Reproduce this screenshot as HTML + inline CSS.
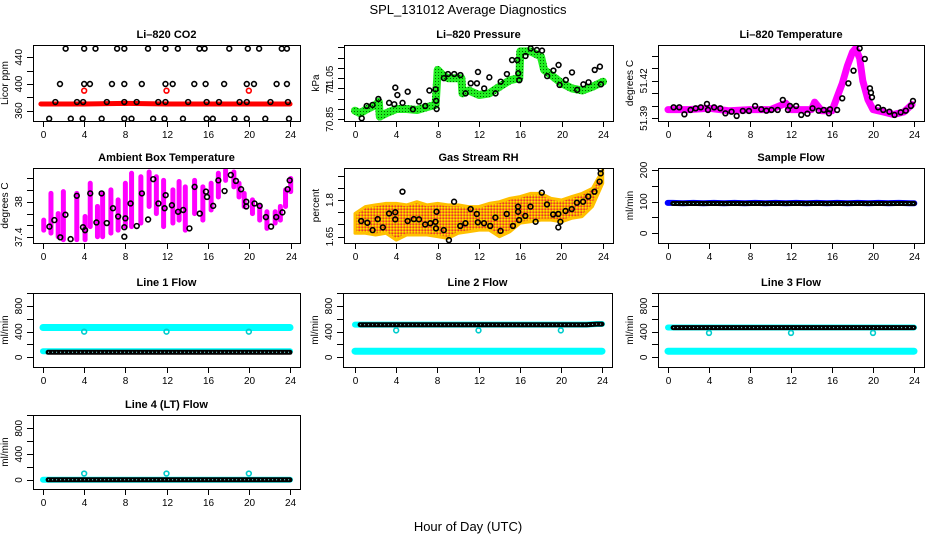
<!DOCTYPE html>
<html><head><meta charset="utf-8">
<style>
html,body{margin:0;padding:0;background:#fff;}
svg{display:block;font-family:"Liberation Sans",Arial,sans-serif;}
</style></head>
<body>
<svg id="chart" width="936" height="540" viewBox="0 0 936 540" xmlns="http://www.w3.org/2000/svg">
<defs>
<pattern id="rhpat" width="3" height="3" patternUnits="userSpaceOnUse">
<rect width="3" height="3" fill="#f5a000"/>
<rect width="1.5" height="1.5" fill="#ffe000"/>
<rect x="1.5" y="1.5" width="1.5" height="1.5" fill="#e33"/>
</pattern>
<pattern id="grpat" width="3" height="3" patternUnits="userSpaceOnUse">
<rect width="3" height="3" fill="#22ee22"/>
<rect width="1" height="1" fill="#060"/>
</pattern>
</defs>
<text x="468" y="14" text-anchor="middle" font-size="13">SPL_131012  Average Diagnostics</text>
<text x="468" y="531" text-anchor="middle" font-size="13">Hour of Day (UTC)</text>
</svg>
<script>
// ---------- data ----------
const xTickHours = [0,4,8,12,16,20,24];
// CO2
const co2BandHours = [-0.2,4,8,12,16,20,24];
const co2BandVals = [370,370,371,370,370,370,370];
const co2TopHours = [2.2,4.0,5.1,7.2,7.9,10.2,11.9,13.1,15.2,15.7,18.1,19.9,21.0,23.2,23.7];
const co2TopVals = [453,453,453,453,453,453,453,453,453,453,453,453,453,453,453];
const co2MidHours = [1.65,4.0,4.56,6.7,7.9,9.6,11.9,12.6,14.7,15.8,17.6,19.8,20.5,22.7,23.7];
const co2MidVals = [400,400,400,400,400,400,400,400,400,400,400,400,400,400,400];
const co2LowHours = [1.2,3.3,3.9,6.2,7.9,9.1,11.2,11.9,14.1,15.9,17.1,19.1,19.8,22.1,23.8];
const co2LowVals = [373,373,373,373,373,373,373,373,373,373,373,373,373,373,373];
const co2BotHours = [0.6,2.7,3.85,5.7,7.9,8.6,10.7,11.8,13.6,15.9,16.5,18.6,19.8,21.6,23.9];
const co2BotVals = [348,348,348,348,348,348,348,348,348,348,348,348,348,348,348];
const co2RedHours = [4.0,12.0,20.0];
const co2RedVals = [390,390,390];
// Pressure
const presBandHours = [0,0.5,1,2,2.3,2.4,3,4,5,6,7,7.8,8,8.5,9,10.3,10.4,11,12,13,14,15,15.9,16,17,18,18.3,19,20,21,22,23,24];
const presBandVals = [70.892,70.879,70.895,70.92,70.935,70.863,70.879,70.90,70.90,70.895,70.91,70.92,71.09,71.065,71.05,71.05,70.976,70.99,70.968,70.976,71.009,71.04,71.05,71.18,71.18,71.155,71.09,71.065,71.025,71.0,70.99,71.009,71.033];
const presPtHours = [0.65,1.13,1.7,2.26,3.3,3.8,3.9,4.1,4.6,5.1,5.6,6.2,6.8,7.2,7.8,7.85,7.9,8.6,9.0,9.6,10.2,10.7,11.2,11.8,11.9,12.5,13.0,13.6,14.1,14.7,15.2,15.7,15.8,15.9,16.5,17.0,17.6,18.1,18.6,19.2,19.7,19.8,20.4,21.0,21.5,22.1,22.6,23.2,23.7,23.8];
const presPtVals = [70.855,70.915,70.92,70.949,70.93,70.923,71.004,70.968,70.93,70.984,70.899,70.936,70.915,70.99,70.996,70.94,70.90,71.05,71.07,71.07,71.065,70.976,71.025,71.025,71.08,71.0,71.054,70.976,71.033,71.07,71.138,71.138,71.074,71.04,71.158,71.195,71.187,71.184,71.06,71.087,71.114,71.017,71.041,71.078,70.993,71.02,71.03,71.09,71.106,71.02];
// Li-820 Temperature
const tempBandHours = [0,2,4,6,8,10,11.5,12,14,14.3,15,16,16.5,17,17.5,18,18.3,18.7,19,19.5,20,21,22,23,23.8];
const tempBandVals = [51.397,51.397,51.398,51.396,51.397,51.397,51.402,51.397,51.397,51.403,51.396,51.396,51.407,51.418,51.432,51.443,51.446,51.438,51.42,51.405,51.397,51.395,51.393,51.395,51.401];
const tempPtHours = [0.55,1.1,1.6,2.2,2.7,3.2,3.8,3.9,4.5,5.1,5.6,6.2,6.7,7.3,7.9,8.5,9.1,9.6,10.1,10.7,11.2,11.7,11.9,12.5,13.0,13.6,14.1,14.7,15.2,15.7,15.8,16.5,17.0,17.6,18.1,18.7,19.2,19.7,19.8,19.9,20.5,21.0,21.6,22.1,22.7,23.2,23.7,23.9];
const tempPtVals = [51.3988,51.3988,51.3932,51.3967,51.398,51.3988,51.4015,51.3967,51.3988,51.398,51.394,51.3953,51.3919,51.3959,51.3959,51.3999,51.3972,51.3961,51.3967,51.3967,51.4047,51.3967,51.3999,51.3999,51.3927,51.3937,51.398,51.3961,51.3967,51.394,51.3972,51.3967,51.406,51.418,51.4281,51.446,51.4375,51.414,51.4105,51.4068,51.3988,51.3967,51.3953,51.3927,51.3948,51.3961,51.3999,51.4039];
// Ambient box temperature (streaks)
const ambHours = [0.1,0.8,1.5,2.0,3.3,4.1,4.6,5.3,5.8,6.6,7.3,8.0,8.6,9.5,10.3,11.0,11.7,12.6,13.2,13.8,14.7,15.5,16.3,17.0,17.7,18.5,19.0,19.5,20.3,21.0,21.7,22.5,23.0,23.5,24.0];
const ambHigh = [37.69,38.14,37.80,38.17,38.14,37.75,38.31,37.92,38.14,38.20,38.03,38.31,38.48,38.42,38.50,38.42,38.36,38.20,38.34,38.25,38.36,38.25,38.31,38.48,38.53,38.50,38.31,38.14,38.03,37.92,37.83,37.83,37.92,38.20,38.39];
const ambLow = [37.52,37.47,37.41,37.36,37.36,37.36,37.58,37.41,37.41,37.47,37.52,37.58,37.58,37.64,37.92,37.80,37.58,37.64,37.69,37.52,37.80,37.69,37.86,38.08,38.36,38.25,38.08,37.92,37.80,37.69,37.55,37.64,37.69,37.92,38.17];
const ambPtHours = [0.65,1.13,1.7,2.2,2.7,3.3,3.9,4.1,4.6,5.2,5.7,6.2,6.8,7.3,7.9,7.9,8.0,8.5,9.1,9.6,10.2,10.7,11.2,11.8,11.9,12.5,13.1,13.6,14.2,14.7,15.2,15.8,15.9,16.5,17.0,17.6,18.2,18.7,19.2,19.7,19.7,20.5,21.0,21.6,22.1,22.6,23.2,23.7,23.9];
const ambPtVals = [37.58,37.69,37.40,37.78,37.37,38.1,37.57,37.52,38.14,37.65,38.14,37.64,37.89,37.75,37.57,37.41,37.72,37.97,37.59,38.14,37.70,38.38,37.97,37.89,38.11,37.94,37.83,37.86,37.55,38.25,37.80,38.17,38.08,37.93,38.36,38.18,38.45,38.35,38.21,38.0,37.92,37.97,37.93,37.74,37.58,37.74,37.82,38.21,38.36];
// Gas stream RH
const rhBandHours = [0,1,2,3,4,5,6,7,8,9,10,11,12,13,14,15,16,17,18,19,20,21,22,23,24];
const rhBandHigh = [1.745,1.773,1.780,1.786,1.786,1.780,1.793,1.780,1.786,1.780,1.780,1.773,1.773,1.786,1.793,1.807,1.814,1.827,1.827,1.807,1.800,1.814,1.827,1.848,1.923];
const rhBandLow = [1.664,1.664,1.657,1.664,1.636,1.657,1.657,1.657,1.650,1.643,1.664,1.670,1.677,1.677,1.650,1.670,1.705,1.711,1.718,1.718,1.711,1.725,1.732,1.773,1.868];
const rhPtHours = [0.6,1.2,1.7,2.2,2.7,3.3,3.9,3.9,4.6,5.1,5.7,6.2,6.8,7.3,7.8,7.85,7.9,8.6,9.1,9.6,10.2,10.7,11.2,11.8,11.9,12.5,13.1,13.6,14.1,14.7,15.3,15.8,15.8,15.9,16.5,17.0,17.5,18.1,18.6,19.2,19.7,19.7,19.9,20.4,21.0,21.5,22.1,22.6,23.2,23.7,23.8,23.8];
const rhPtVals = [1.714,1.707,1.677,1.722,1.688,1.745,1.75,1.721,1.834,1.714,1.722,1.721,1.70,1.705,1.711,1.684,1.752,1.677,1.636,1.793,1.694,1.705,1.763,1.743,1.709,1.705,1.694,1.728,1.674,1.743,1.694,1.773,1.752,1.718,1.735,1.773,1.711,1.83,1.782,1.741,1.743,1.688,1.711,1.755,1.763,1.789,1.793,1.814,1.834,1.875,1.909,1.926];
// Flows (hourly readings)
const flowHours = [0.5,1.5,2.5,3.5,4.5,5.5,6.5,7.5,8.5,9.5,10.5,11.5,12.5,13.5,14.5,15.5,16.5,17.5,18.5,19.5,20.5,21.5,22.5,23.5,24];
const sampleBlue = [96,95,96,95,96,95,96,95,96,95,96,95,96,95,96,95,96,95,96,95,96,95,96,95,95];
const sampleBlack = [94,94,94,94,94,94,94,94,94,94,94,94,94,94,94,94,94,94,94,94,94,94,94,94,94];
const line1Cyan = [465,465,465,465,465,465,465,465,465,465,465,465,465,465,465,465,465,465,465,465,465,465,465,465,465];
const line1CyanLow = [95,95,95,95,95,95,95,95,95,95,95,95,95,95,95,95,95,95,95,95,95,95,95,95,95];
const line1Black = [78,78,78,78,78,78,78,78,78,78,78,78,78,78,78,78,78,78,78,78,78,78,78,78,78];
const line2Cyan = [510,510,510,510,510,510,510,510,510,510,510,510,510,510,510,510,510,510,510,510,510,510,510,520,520];
const line2CyanLow = [95,95,95,95,95,95,95,95,95,95,95,95,95,95,95,95,95,95,95,95,95,95,95,95,95];
const line2Black = [508,508,508,508,508,508,508,508,508,508,508,508,508,508,508,508,508,508,508,508,508,508,508,518,518];
const line3Cyan = [465,465,465,465,465,465,465,465,465,465,465,465,465,465,465,465,465,465,465,465,465,465,465,465,465];
const line3CyanLow = [95,95,95,95,95,95,95,95,95,95,95,95,95,95,95,95,95,95,95,95,95,95,95,95,95];
const line3Black = [463,463,463,463,463,463,463,463,463,463,463,463,463,463,463,463,463,463,463,463,463,463,463,463,463];
const line4Cyan = [5,5,5,5,5,5,5,5,5,5,5,5,5,5,5,5,5,5,5,5,5,5,5,5,5];
const line4Black = [3,3,3,3,3,3,3,3,3,3,3,3,3,3,3,3,3,3,3,3,3,3,3,3,3];
const outlierHours = [4,12,20];
const line1Out = [400,400,400];
const line2Out = [420,420,420];
const line3Out = [380,380,380];
const line4Out = [100,100,100];

// ---------- drawing ----------
const NS = "http://www.w3.org/2000/svg";
const svg = document.getElementById('chart');
function mk(tag, attrs, parent){
  const e = document.createElementNS(NS, tag);
  for (const k in attrs) e.setAttribute(k, attrs[k]);
  (parent||svg).appendChild(e);
  return e;
}
function panel(name, title, box, xr, yr, yTicks, yLabels, yTitle){
  const g = mk('g', {});
  
  
  const X = h => xr[0] + (h) * (xr[1] - xr[0]) / 24;
  const Y = v => yr[1] + (v - yr[0]) * (yr[3] - yr[1]) / (yr[2] - yr[0]);
  const t = mk('text', {x:(box[0]+box[2])/2, y:box[1]-7, 'text-anchor':'middle', 'font-size':11, 'font-weight':'bold'}, g);
  t.textContent = title;
  
  
  const clip = 'clip-' + name;
  const cp = mk('clipPath', {id:clip}, g);
  mk('rect', {x:box[0], y:box[1], width:box[2]-box[0], height:box[3]-box[1]}, cp);
  const plot = mk('g', {'clip-path':'url(#'+clip+')'}, g);
  
  
  const frame = mk('rect', {x:box[0]+0.5, y:box[1]+0.5, width:box[2]-box[0], height:box[3]-box[1], fill:'none', stroke:'#000', 'stroke-width':1}, g);
  
  
  xTickHours.forEach(h => {
    const x = Math.round(X(h)) + 0.5;
    mk('line', {x1:x, x2:x, y1:box[3], y2:box[3]+6, stroke:'#000'}, g);
    const tl = mk('text', {x:x, y:box[3]+17, 'text-anchor':'middle', 'font-size':10}, g);
    tl.textContent = h;
    
    
  });
  yTicks.forEach(v => {
    const y = Math.round(Y(v)) + 0.5;
    mk('line', {x1:box[0]-6, x2:box[0], y1:y, y2:y, stroke:'#000'}, g);
  });
  yLabels.forEach(v => {
    const y = Y(v);
    const lx = box[0] - 11;
    const tl = mk('text', {x:lx, y:y, 'text-anchor':'middle', 'font-size':10, transform:'rotate(-90 '+lx+' '+y+')'}, g);
    tl.textContent = v;
    
    
  });
  const tx = box[0] - 25, ty = (box[1]+box[3])/2;
  const yt = mk('text', {x:tx, y:ty, 'text-anchor':'middle', 'font-size':10, transform:'rotate(-90 '+tx+' '+ty+')'}, g);
  yt.textContent = yTitle;
  
  
  return {X, Y, plot};
}
function band(p, hs, vs, color, w, nm){
  const pts = hs.map((h,i) => p.X(h).toFixed(1)+','+p.Y(vs[i]).toFixed(1)).join(' ');
  const l = mk('polyline', {points:pts, fill:'none', stroke:color, 'stroke-width':w, 'stroke-linecap':'round', 'stroke-linejoin':'round'}, p.plot);
  
  
  return l;
}
function chain(p, hs, vs, nm){
  band(p, hs, vs, '#000', 5, nm);
  const pts = hs.map((h,i) => p.X(h).toFixed(1)+','+p.Y(vs[i]).toFixed(1)).join(' ');
  mk('polyline', {points:pts, fill:'none', stroke:'#8ff', 'stroke-width':1, 'stroke-dasharray':'1 3'}, p.plot);
}
function pts(p, hs, vs, color, nm, r){
  hs.forEach((h,i) => {
    const c = mk('circle', {cx:p.X(h), cy:p.Y(vs[i]), r:r||2.4, fill:'none', stroke:color, 'stroke-width':1.6}, p.plot);
    
    
  });
}

// Row 1
let p = panel('li820-co2', 'Li\u2013820 CO2', [33,45,300,121], [43,290], [360,110.7,440,57.3], [360,380,400,420,440], [360,400,440], 'Licor ppm');
band(p, co2BandHours, co2BandVals, '#f00', 5, 'co2-series');
pts(p, co2TopHours, co2TopVals, '#000', 'co2-point');
pts(p, co2MidHours, co2MidVals, '#000', 'co2-point');
pts(p, co2LowHours, co2LowVals, '#000', 'co2-point');
pts(p, co2BotHours, co2BotVals, '#000', 'co2-point');
pts(p, co2RedHours, co2RedVals, '#f00', 'co2-outlier');

p = panel('li820-pressure', 'Li\u2013820 Pressure', [344,45,613,121], [355,603], [70.85,119.3,71.20,47.3], [70.85,70.90,70.95,71.00,71.05,71.10,71.15,71.20], [70.85,71,71.05], 'kPa');
band(p, presBandHours, presBandVals, 'url(#grpat)', 8, 'pressure-series');
pts(p, presPtHours, presPtVals, '#000', 'pressure-point');

p = panel('li820-temperature', 'Li\u2013820 Temperature', [658,45,924,121], [668,914], [51.39,118.3,51.42,80.8], [51.39,51.40,51.41,51.42,51.43,51.44], [51.39,51.42], 'degrees C');
band(p, tempBandHours, tempBandVals, '#f0f', 7, 'li820-temp-series');
pts(p, tempPtHours, tempPtVals, '#000', 'li820-temp-point');

// Row 2
p = panel('ambient-box-temperature', 'Ambient Box Temperature', [33,168,300,243], [42.7,290.7], [37.4,237.3,38.0,201.7], [37.4,37.6,37.8,38.0,38.2,38.4], [37.4,38.0], 'degrees C');
ambHours.forEach((h,i) => {
  const l = mk('line', {x1:p.X(h), x2:p.X(h), y1:p.Y(ambHigh[i]), y2:p.Y(ambLow[i]), stroke:'#f0f', 'stroke-width':5, 'stroke-linecap':'round'}, p.plot);
  
  
});
pts(p, ambPtHours, ambPtVals, '#000', 'ambient-temp-point');

p = panel('gas-stream-rh', 'Gas Stream RH', [344,168,613,243], [355,602.7], [1.65,236.7,1.80,200], [1.65,1.70,1.75,1.80,1.85,1.90], [1.65,1.80], 'percent');
{
  const up = rhBandHours.map((h,i) => p.X(h).toFixed(1)+','+p.Y(rhBandHigh[i]).toFixed(1));
  const dn = rhBandHours.map((h,i) => p.X(h).toFixed(1)+','+p.Y(rhBandLow[i]).toFixed(1)).reverse();
  const poly = mk('polygon', {points:up.concat(dn).join(' '), fill:'url(#rhpat)', stroke:'#ffc000', 'stroke-width':3, 'stroke-linejoin':'round'}, p.plot);
  
  
}
pts(p, rhPtHours, rhPtVals, '#000', 'rh-point');

p = panel('sample-flow', 'Sample Flow', [658,168,924,243], [667.7,914.3], [0,233.3,200,170], [0,50,100,150,200], [0,100,200], 'ml/min');
band(p, [0].concat(flowHours), [sampleBlue[0]].concat(sampleBlue), '#00f', 6, 'sample-flow-series');
chain(p, flowHours, sampleBlack, 'sample-flow-points');

// Row 3
const fT = [0,200,400,600,800,1000], fL = [0,400,800];
p = panel('line1-flow', 'Line 1 Flow', [33,293,300,367], [43,290], [0,357.3,800,306], fT, fL, 'ml/min');
band(p, [0].concat(flowHours), [line1Cyan[0]].concat(line1Cyan), '#0ff', 7, 'line1-flow-high');
band(p, [0].concat(flowHours), [line1CyanLow[0]].concat(line1CyanLow), '#0ff', 6, 'line1-flow-low');
chain(p, flowHours, line1Black, 'line1-flow-points');
pts(p, outlierHours, line1Out, '#0cc', 'line1-outlier');

p = panel('line2-flow', 'Line 2 Flow', [343,293,612,367], [355,602], [0,357.3,800,306], fT, fL, 'ml/min');
band(p, [0].concat(flowHours), [line2Cyan[0]].concat(line2Cyan), '#0ff', 6, 'line2-flow-high');
band(p, [0].concat(flowHours), [line2CyanLow[0]].concat(line2CyanLow), '#0ff', 7, 'line2-flow-low');
chain(p, flowHours, line2Black, 'line2-flow-points');
pts(p, outlierHours, line2Out, '#0cc', 'line2-outlier');

p = panel('line3-flow', 'Line 3 Flow', [658,293,924,367], [668,914], [0,357.3,800,306], fT, fL, 'ml/min');
band(p, [0].concat(flowHours), [line3Cyan[0]].concat(line3Cyan), '#0ff', 6, 'line3-flow-high');
band(p, [0].concat(flowHours), [line3CyanLow[0]].concat(line3CyanLow), '#0ff', 7, 'line3-flow-low');
chain(p, flowHours, line3Black, 'line3-flow-points');
pts(p, outlierHours, line3Out, '#0cc', 'line3-outlier');

// Row 4
p = panel('line4-flow', 'Line 4 (LT) Flow', [33,415,300,489], [43,290], [0,480,800,428.3], fT, fL, 'ml/min');
band(p, [0].concat(flowHours), [line4Cyan[0]].concat(line4Cyan), '#0ff', 6, 'line4-flow-series');
chain(p, flowHours, line4Black, 'line4-flow-points');
pts(p, outlierHours, line4Out, '#0cc', 'line4-outlier');
</script>
</body></html>
